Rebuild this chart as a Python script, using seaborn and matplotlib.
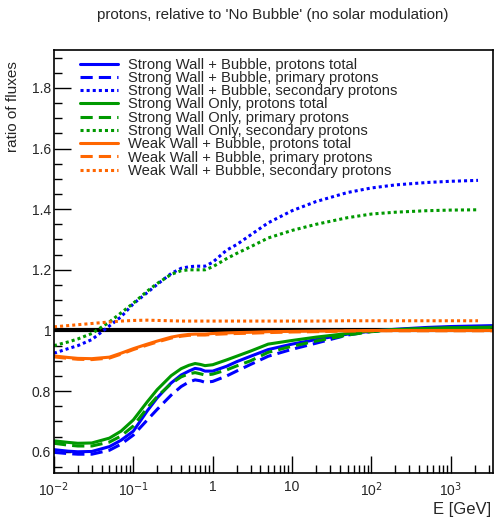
import numpy as np
import pandas as pd
import matplotlib
matplotlib.use("Agg")
import matplotlib.pyplot as plt
import matplotlib.ticker as mticker
import seaborn as sns

# energy grid [GeV]; secondaries stop a bit earlier than the totals
energy = [0.01, 0.015, 0.02, 0.03, 0.05, 0.07, 0.1, 0.15, 0.2, 0.3, 0.4, 0.5, 0.6, 0.7,
          0.8, 1.0, 1.5, 2, 3, 5, 10, 20, 50, 100, 200, 500, 1000, 3400]
energy_sec = [0.01, 0.015, 0.02, 0.03, 0.05, 0.07, 0.1, 0.15, 0.2, 0.3, 0.4, 0.5, 0.6, 0.7,
              0.8, 1.0, 1.5, 2, 3, 5, 10, 20, 50, 100, 200, 500, 1000, 2200]
energy_ref = [0.01, 3400]

# ratios relative to 'No Bubble'
sw_b_tot = [0.607, 0.602, 0.600, 0.601, 0.617, 0.638, 0.668, 0.735, 0.778, 0.827, 0.853, 0.866,
            0.875, 0.872, 0.866, 0.866, 0.882, 0.897, 0.915, 0.937, 0.955, 0.970, 0.988, 0.998,
            1.004, 1.010, 1.013, 1.016]
sw_b_pri = [0.598, 0.594, 0.592, 0.592, 0.605, 0.625, 0.655, 0.705, 0.740, 0.787, 0.815, 0.830,
            0.837, 0.834, 0.829, 0.832, 0.850, 0.866, 0.888, 0.915, 0.938, 0.958, 0.985, 0.997,
            1.002, 1.007, 1.010, 1.013]
sw_b_sec = [0.925, 0.940, 0.950, 0.970, 1.015, 1.045, 1.088, 1.125, 1.152, 1.188, 1.205, 1.210,
            1.212, 1.212, 1.212, 1.225, 1.265, 1.283, 1.315, 1.355, 1.395, 1.425, 1.455, 1.470,
            1.480, 1.488, 1.492, 1.495]
sw_tot = [0.636, 0.631, 0.628, 0.629, 0.645, 0.668, 0.705, 0.765, 0.805, 0.851, 0.874, 0.885,
          0.891, 0.888, 0.884, 0.887, 0.903, 0.915, 0.932, 0.955, 0.967, 0.978, 0.990, 0.999,
          1.003, 1.007, 1.009, 1.011]
sw_pri = [0.628, 0.622, 0.619, 0.619, 0.632, 0.652, 0.685, 0.745, 0.782, 0.825, 0.847, 0.857,
          0.861, 0.857, 0.853, 0.856, 0.870, 0.883, 0.900, 0.928, 0.948, 0.965, 0.985, 0.996,
          1.002, 1.006, 1.008, 1.010]
sw_sec = [0.950, 0.962, 0.972, 0.990, 1.028, 1.058, 1.090, 1.130, 1.155, 1.185, 1.197, 1.200,
          1.200, 1.200, 1.200, 1.210, 1.237, 1.254, 1.276, 1.305, 1.330, 1.350, 1.372, 1.384,
          1.390, 1.395, 1.397, 1.398]
ww_tot = [0.916, 0.911, 0.908, 0.907, 0.912, 0.925, 0.940, 0.955, 0.965, 0.978, 0.984, 0.987,
          0.988, 0.988, 0.988, 0.990, 0.992, 0.993, 0.994, 0.996, 0.997, 0.998, 0.999, 1.000,
          1.000, 1.000, 1.000, 1.000]
ww_pri = [0.913, 0.908, 0.905, 0.904, 0.909, 0.922, 0.937, 0.952, 0.962, 0.975, 0.981, 0.984,
          0.985, 0.985, 0.985, 0.987, 0.989, 0.990, 0.991, 0.993, 0.995, 0.996, 0.998, 0.999,
          0.999, 0.999, 0.999, 0.999]
ww_sec = [1.012, 1.016, 1.019, 1.023, 1.028, 1.031, 1.033, 1.034, 1.033, 1.032, 1.031, 1.031,
          1.031, 1.031, 1.031, 1.031, 1.031, 1.031, 1.031, 1.031, 1.031, 1.031, 1.032, 1.032,
          1.032, 1.032, 1.032, 1.032]
no_bubble = [1.0, 1.0]

labels = ["Strong Wall + Bubble, protons total", "Strong Wall + Bubble, primary protons",
          "Strong Wall + Bubble, secondary protons", "Strong Wall Only, protons total",
          "Strong Wall Only, primary protons", "Strong Wall Only, secondary protons",
          "Weak Wall + Bubble, protons total", "Weak Wall + Bubble, primary protons",
          "Weak Wall + Bubble, secondary protons"]
series = [sw_b_tot, sw_b_pri, sw_b_sec, sw_tot, sw_pri, sw_sec, ww_tot, ww_pri, ww_sec]
x_for = [energy, energy, energy_sec] * 3
colors = ["#0000ff"] * 3 + ["#009900"] * 3 + ["#ff6600"] * 3
styles = ["-", (0, (4, 2)), (0, (1, 1))] * 3

sns.set_style("ticks")
plt.rcParams["font.family"] = ["Liberation Sans", "DejaVu Sans"]

fig = plt.figure(figsize=(4.95, 5.2), dpi=100)
ax = fig.add_axes([0.109, 0.0904, 0.887, 0.8135])

sns.lineplot(x=energy_ref, y=no_bubble, color="black", linewidth=3, ax=ax)
for xs, vals, lab, c, ls in zip(x_for, series, labels, colors, styles):
    sns.lineplot(x=xs, y=vals, color=c, linestyle=ls, linewidth=2.2, label=lab, ax=ax)

ax.set_xscale("log")
ax.set_xlim(0.01, 3400)
ax.set_ylim(0.53, 1.925)

ax.xaxis.set_minor_locator(mticker.LogLocator(base=10, subs=np.arange(2, 10), numticks=20))
ax.xaxis.set_minor_formatter(mticker.NullFormatter())
ax.set_xticks([0.01, 0.1, 1, 10, 100, 1000])
ax.set_xticklabels(["10$^{-2}$", "10$^{-1}$", "1", "10", "10$^{2}$", "10$^{3}$"])
ax.yaxis.set_major_locator(mticker.MultipleLocator(0.2))
ax.yaxis.set_minor_locator(mticker.MultipleLocator(0.05))
ax.yaxis.set_major_formatter(mticker.FuncFormatter(lambda v, p: f"{v:g}"))

ax.tick_params(which="both", direction="in", labelsize=10, color="black", width=1)
ax.tick_params(which="major", length=12)
ax.tick_params(which="minor", length=6)
ax.tick_params(axis="x", which="major", pad=5)
ax.tick_params(axis="y", which="major", pad=2)
for s in ax.spines.values():
    s.set_color("black")
    s.set_linewidth(1.2)
ax.grid(False)

ax.set_xlabel("")
ax.set_ylabel("")
fig.text(0.993, 0.021, "E [GeV]", ha="right", va="center", fontsize=12)
fig.text(0.026, 0.882, "ratio of fluxes", ha="center", va="top", rotation=90, fontsize=11)
fig.text(0.552, 0.971, "protons, relative to 'No Bubble' (no solar modulation)",
         ha="center", va="center", fontsize=10.9)

ax.legend(loc="upper left", bbox_to_anchor=(0.1616, 0.889), bbox_transform=fig.transFigure,
          frameon=False, fontsize=10.66, handlelength=2.57, handletextpad=0.68,
          labelspacing=-0.05, borderpad=0, borderaxespad=0)

fig.savefig("out.png", dpi=100)
